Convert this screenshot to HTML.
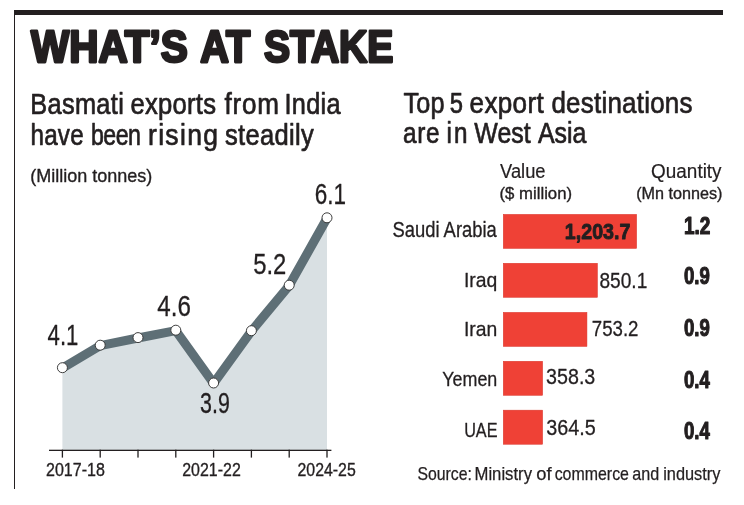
<!DOCTYPE html>
<html><head><meta charset="utf-8"><title>What's at stake</title>
<style>
html,body{margin:0;padding:0;background:#fff;}
body{width:744px;height:505px;overflow:hidden;}
svg{display:block;will-change:transform;}
text{font-family:"Liberation Sans",Arial,sans-serif;fill:#231f20;}
.b{font-weight:bold;}
</style></head><body>
<svg width="744" height="505" viewBox="0 0 744 505">
<rect x="0" y="0" width="744" height="505" fill="#fff"/>
<rect x="14" y="10" width="709" height="5" fill="#231f20"/>
<rect x="14" y="10" width="1" height="479" fill="#231f20"/>
<polygon points="62.4,367.7 100.2,345.2 138.0,337.6 175.8,330.2 213.6,383.0 251.4,330.7 289.2,285.2 327.0,217.8 327.0,450.3 62.4,450.3" fill="#d9e0e3"/>
<rect x="49" y="449.7" width="282.4" height="1.3" fill="#231f20"/>
<rect x="61.75" y="449.7" width="1.3" height="7.9" fill="#231f20"/>
<rect x="99.55" y="449.7" width="1.3" height="7.9" fill="#231f20"/>
<rect x="137.35" y="449.7" width="1.3" height="7.9" fill="#231f20"/>
<rect x="175.15" y="449.7" width="1.3" height="7.9" fill="#231f20"/>
<rect x="212.95" y="449.7" width="1.3" height="7.9" fill="#231f20"/>
<rect x="250.75" y="449.7" width="1.3" height="7.9" fill="#231f20"/>
<rect x="288.55" y="449.7" width="1.3" height="7.9" fill="#231f20"/>
<rect x="326.35" y="449.7" width="1.3" height="7.9" fill="#231f20"/>
<polyline points="62.4,368.1 100.2,345.6 138.0,338.0 175.8,330.6 213.6,383.4 251.4,331.1 289.2,285.6 327.0,218.2" fill="none" stroke="#5e6f76" stroke-width="9.1" stroke-linejoin="round" stroke-linecap="butt"/>
<circle cx="62.4" cy="367.7" r="5.0" fill="#fff" stroke="#363636" stroke-width="0.95"/>
<circle cx="100.2" cy="345.2" r="5.0" fill="#fff" stroke="#363636" stroke-width="0.95"/>
<circle cx="138.0" cy="337.6" r="5.0" fill="#fff" stroke="#363636" stroke-width="0.95"/>
<circle cx="175.8" cy="330.2" r="5.0" fill="#fff" stroke="#363636" stroke-width="0.95"/>
<circle cx="213.6" cy="383.0" r="5.0" fill="#fff" stroke="#363636" stroke-width="0.95"/>
<circle cx="251.4" cy="330.7" r="5.0" fill="#fff" stroke="#363636" stroke-width="0.95"/>
<circle cx="289.2" cy="285.2" r="5.0" fill="#fff" stroke="#363636" stroke-width="0.95"/>
<circle cx="327.0" cy="217.8" r="5.0" fill="#fff" stroke="#363636" stroke-width="0.95"/>
<rect x="503.25" y="214.35" width="133.40" height="34.1" fill="#ef4136" stroke="#d9392f" stroke-width="0.5"/>
<rect x="503.25" y="263.25" width="94.20" height="34.1" fill="#ef4136" stroke="#d9392f" stroke-width="0.5"/>
<rect x="503.25" y="312.35" width="83.70" height="34.1" fill="#ef4136" stroke="#d9392f" stroke-width="0.5"/>
<rect x="503.25" y="361.25" width="39.40" height="34.1" fill="#ef4136" stroke="#d9392f" stroke-width="0.5"/>
<rect x="503.25" y="410.15" width="39.40" height="34.1" fill="#ef4136" stroke="#d9392f" stroke-width="0.5"/>
<text id="t1" class="b" x="31.03" y="62.19" font-size="44.30" textLength="156.77" lengthAdjust="spacingAndGlyphs" stroke="#231f20" stroke-width="2.8" stroke-linejoin="round">WHAT’S</text>
<text id="t2" class="b" x="200.27" y="62.19" font-size="44.30" textLength="49.94" lengthAdjust="spacingAndGlyphs" stroke="#231f20" stroke-width="2.8" stroke-linejoin="round">AT</text>
<text id="t3" class="b" x="263.90" y="62.19" font-size="44.30" textLength="129.48" lengthAdjust="spacingAndGlyphs" stroke="#231f20" stroke-width="2.8" stroke-linejoin="round">STAKE</text>
<text id="h1a1" transform="translate(30.21 113.50) scale(0.8794 1)" font-size="28.80" textLength="106.49" lengthAdjust="spacing" stroke="#231f20" stroke-width="0.7" stroke-linejoin="round">Basmati</text>
<text id="h1a2" transform="translate(130.41 113.50) scale(0.8898 1)" font-size="28.80" textLength="96.17" lengthAdjust="spacing" stroke="#231f20" stroke-width="0.7" stroke-linejoin="round">exports</text>
<text id="h1a3" transform="translate(224.38 113.50) scale(0.9052 1)" font-size="28.80" textLength="60.22" lengthAdjust="spacing" stroke="#231f20" stroke-width="0.7" stroke-linejoin="round">from</text>
<text id="h1a4" transform="translate(284.53 113.50) scale(0.8782 1)" font-size="28.80" textLength="63.74" lengthAdjust="spacing" stroke="#231f20" stroke-width="0.7" stroke-linejoin="round">India</text>
<text id="h1b1" transform="translate(30.61 144.50) scale(0.8413 1)" font-size="28.80" textLength="63.02" lengthAdjust="spacing" stroke="#231f20" stroke-width="0.7" stroke-linejoin="round">have</text>
<text id="h1b2" transform="translate(90.89 144.50) scale(0.8061 1)" font-size="28.80" textLength="62.17" lengthAdjust="spacing" stroke="#231f20" stroke-width="0.7" stroke-linejoin="round">been</text>
<text id="h1b3" transform="translate(147.99 144.50) scale(0.9213 1)" font-size="28.80" textLength="75.92" lengthAdjust="spacing" stroke="#231f20" stroke-width="0.7" stroke-linejoin="round">rising</text>
<text id="h1b4" transform="translate(224.90 144.50) scale(0.8870 1)" font-size="28.80" textLength="100.31" lengthAdjust="spacing" stroke="#231f20" stroke-width="0.7" stroke-linejoin="round">steadily</text>
<text id="unit" x="30.17" y="182.20" font-size="18.60" textLength="122.15" lengthAdjust="spacingAndGlyphs" stroke="#231f20" stroke-width="0.35" stroke-linejoin="round">(Million tonnes)</text>
<text id="h2a1" transform="translate(403.47 112.70) scale(0.8639 1)" font-size="29.20" textLength="47.54" lengthAdjust="spacing" stroke="#231f20" stroke-width="0.7" stroke-linejoin="round">Top</text>
<text id="h2a2" transform="translate(449.83 112.70) scale(0.8168 1)" font-size="29.20" textLength="28.16" lengthAdjust="spacing" stroke="#231f20" stroke-width="0.7" stroke-linejoin="round">5</text>
<text id="h2a3" transform="translate(469.62 112.70) scale(0.8922 1)" font-size="29.20" textLength="82.99" lengthAdjust="spacing" stroke="#231f20" stroke-width="0.7" stroke-linejoin="round">export</text>
<text id="h2a4" transform="translate(551.41 112.70) scale(0.8891 1)" font-size="29.20" textLength="158.68" lengthAdjust="spacing" stroke="#231f20" stroke-width="0.7" stroke-linejoin="round">destinations</text>
<text id="h2b1" transform="translate(403.10 142.50) scale(0.8358 1)" font-size="29.20" textLength="43.63" lengthAdjust="spacing" stroke="#231f20" stroke-width="0.7" stroke-linejoin="round">are</text>
<text id="h2b2" transform="translate(446.57 142.50) scale(0.8305 1)" font-size="29.20" textLength="25.23" lengthAdjust="spacing" stroke="#231f20" stroke-width="0.7" stroke-linejoin="round">in</text>
<text id="h2b3" transform="translate(474.30 142.50) scale(0.8539 1)" font-size="29.20" textLength="66.15" lengthAdjust="spacing" stroke="#231f20" stroke-width="0.7" stroke-linejoin="round">West</text>
<text id="h2b4" transform="translate(537.94 142.50) scale(0.8531 1)" font-size="29.20" textLength="56.80" lengthAdjust="spacing" stroke="#231f20" stroke-width="0.7" stroke-linejoin="round">Asia</text>
<text id="val" x="500.03" y="177.76" font-size="19.60" textLength="45.52" lengthAdjust="spacingAndGlyphs" stroke="#231f20" stroke-width="0.2" stroke-linejoin="round">Value</text>
<text id="valu" x="499.45" y="199.40" font-size="16.50" textLength="72.66" lengthAdjust="spacingAndGlyphs" stroke="#231f20" stroke-width="0.35" stroke-linejoin="round">($ million)</text>
<text id="qty" x="651.10" y="177.80" font-size="20.00" textLength="70.49" lengthAdjust="spacingAndGlyphs" stroke="#231f20" stroke-width="0.2" stroke-linejoin="round">Quantity</text>
<text id="qtyu" x="636.21" y="199.40" font-size="16.50" textLength="86.29" lengthAdjust="spacingAndGlyphs" stroke="#231f20" stroke-width="0.35" stroke-linejoin="round">(Mn tonnes)</text>
<text id="c1" x="392.50" y="236.90" font-size="21.30" textLength="104.27" lengthAdjust="spacingAndGlyphs" stroke="#231f20" stroke-width="0.3" stroke-linejoin="round">Saudi Arabia</text>
<text id="v1" class="b" x="564.86" y="238.60" font-size="21.70" textLength="65.50" lengthAdjust="spacingAndGlyphs" stroke="#231f20" stroke-width="0.9" stroke-linejoin="round">1,203.7</text>
<text id="q1" class="b" x="683.93" y="233.59" font-size="23.10" textLength="26.47" lengthAdjust="spacingAndGlyphs" stroke="#231f20" stroke-width="1.1" stroke-linejoin="round">1.2</text>
<text id="c2" x="463.89" y="286.90" font-size="21.00" textLength="33.36" lengthAdjust="spacingAndGlyphs" stroke="#231f20" stroke-width="0.3" stroke-linejoin="round">Iraq</text>
<text id="v2" x="599.46" y="287.76" font-size="22.20" textLength="47.82" lengthAdjust="spacingAndGlyphs" stroke="#231f20" stroke-width="0.3" stroke-linejoin="round">850.1</text>
<text id="q2" class="b" x="683.92" y="284.11" font-size="23.10" textLength="25.87" lengthAdjust="spacingAndGlyphs" stroke="#231f20" stroke-width="1.1" stroke-linejoin="round">0.9</text>
<text id="c3" x="463.88" y="336.30" font-size="21.00" textLength="33.36" lengthAdjust="spacingAndGlyphs" stroke="#231f20" stroke-width="0.3" stroke-linejoin="round">Iran</text>
<text id="v3" x="591.80" y="335.54" font-size="22.00" textLength="46.65" lengthAdjust="spacingAndGlyphs" stroke="#231f20" stroke-width="0.3" stroke-linejoin="round">753.2</text>
<text id="q3" class="b" x="683.92" y="336.35" font-size="23.10" textLength="25.87" lengthAdjust="spacingAndGlyphs" stroke="#231f20" stroke-width="1.1" stroke-linejoin="round">0.9</text>
<text id="c4" x="442.26" y="386.40" font-size="20.80" textLength="55.09" lengthAdjust="spacingAndGlyphs" stroke="#231f20" stroke-width="0.3" stroke-linejoin="round">Yemen</text>
<text id="v4" x="546.10" y="384.04" font-size="22.00" textLength="49.22" lengthAdjust="spacingAndGlyphs" stroke="#231f20" stroke-width="0.3" stroke-linejoin="round">358.3</text>
<text id="q4" class="b" x="683.88" y="387.59" font-size="23.10" textLength="25.85" lengthAdjust="spacingAndGlyphs" stroke="#231f20" stroke-width="1.1" stroke-linejoin="round">0.4</text>
<text id="c5" x="464.17" y="436.52" font-size="20.80" textLength="33.35" lengthAdjust="spacingAndGlyphs" stroke="#231f20" stroke-width="0.3" stroke-linejoin="round">UAE</text>
<text id="v5" x="546.18" y="435.30" font-size="22.00" textLength="49.54" lengthAdjust="spacingAndGlyphs" stroke="#231f20" stroke-width="0.3" stroke-linejoin="round">364.5</text>
<text id="q5" class="b" x="683.88" y="438.59" font-size="23.10" textLength="25.85" lengthAdjust="spacingAndGlyphs" stroke="#231f20" stroke-width="1.1" stroke-linejoin="round">0.4</text>
<text id="s1" x="417.38" y="479.70" font-size="17.70" textLength="54.48" lengthAdjust="spacingAndGlyphs" stroke="#231f20" stroke-width="0.25" stroke-linejoin="round">Source:</text>
<text id="s2" x="474.52" y="479.70" font-size="17.70" textLength="57.47" lengthAdjust="spacingAndGlyphs" stroke="#231f20" stroke-width="0.25" stroke-linejoin="round">Ministry</text>
<text id="s3" x="536.21" y="479.70" font-size="17.70" textLength="15.31" lengthAdjust="spacingAndGlyphs" stroke="#231f20" stroke-width="0.25" stroke-linejoin="round">of</text>
<text id="s4" x="554.63" y="479.70" font-size="17.70" textLength="74.35" lengthAdjust="spacingAndGlyphs" stroke="#231f20" stroke-width="0.25" stroke-linejoin="round">commerce</text>
<text id="s5" x="632.23" y="479.70" font-size="17.70" textLength="26.93" lengthAdjust="spacingAndGlyphs" stroke="#231f20" stroke-width="0.25" stroke-linejoin="round">and</text>
<text id="s6" x="663.22" y="479.70" font-size="17.70" textLength="57.19" lengthAdjust="spacingAndGlyphs" stroke="#231f20" stroke-width="0.25" stroke-linejoin="round">industry</text>
<text id="l1" x="47.59" y="344.54" font-size="28.80" textLength="30.85" lengthAdjust="spacingAndGlyphs" stroke="#231f20" stroke-width="0.3" stroke-linejoin="round">4.1</text>
<text id="l4" x="157.25" y="316.26" font-size="28.80" textLength="33.59" lengthAdjust="spacingAndGlyphs" stroke="#231f20" stroke-width="0.3" stroke-linejoin="round">4.6</text>
<text id="l5" x="200.12" y="412.76" font-size="28.80" textLength="29.78" lengthAdjust="spacingAndGlyphs" stroke="#231f20" stroke-width="0.3" stroke-linejoin="round">3.9</text>
<text id="l7" x="253.16" y="273.50" font-size="28.80" textLength="33.11" lengthAdjust="spacingAndGlyphs" stroke="#231f20" stroke-width="0.3" stroke-linejoin="round">5.2</text>
<text id="l8" x="314.73" y="203.78" font-size="28.80" textLength="31.27" lengthAdjust="spacingAndGlyphs" stroke="#231f20" stroke-width="0.3" stroke-linejoin="round">6.1</text>
<text id="a1" x="46.06" y="476.49" font-size="18.60" textLength="58.82" lengthAdjust="spacingAndGlyphs" stroke="#231f20" stroke-width="0.35" stroke-linejoin="round">2017-18</text>
<text id="a2" x="182.24" y="476.25" font-size="18.60" textLength="58.53" lengthAdjust="spacingAndGlyphs" stroke="#231f20" stroke-width="0.35" stroke-linejoin="round">2021-22</text>
<text id="a3" x="297.56" y="476.25" font-size="18.60" textLength="58.20" lengthAdjust="spacingAndGlyphs" stroke="#231f20" stroke-width="0.35" stroke-linejoin="round">2024-25</text>
</svg>
</body></html>
